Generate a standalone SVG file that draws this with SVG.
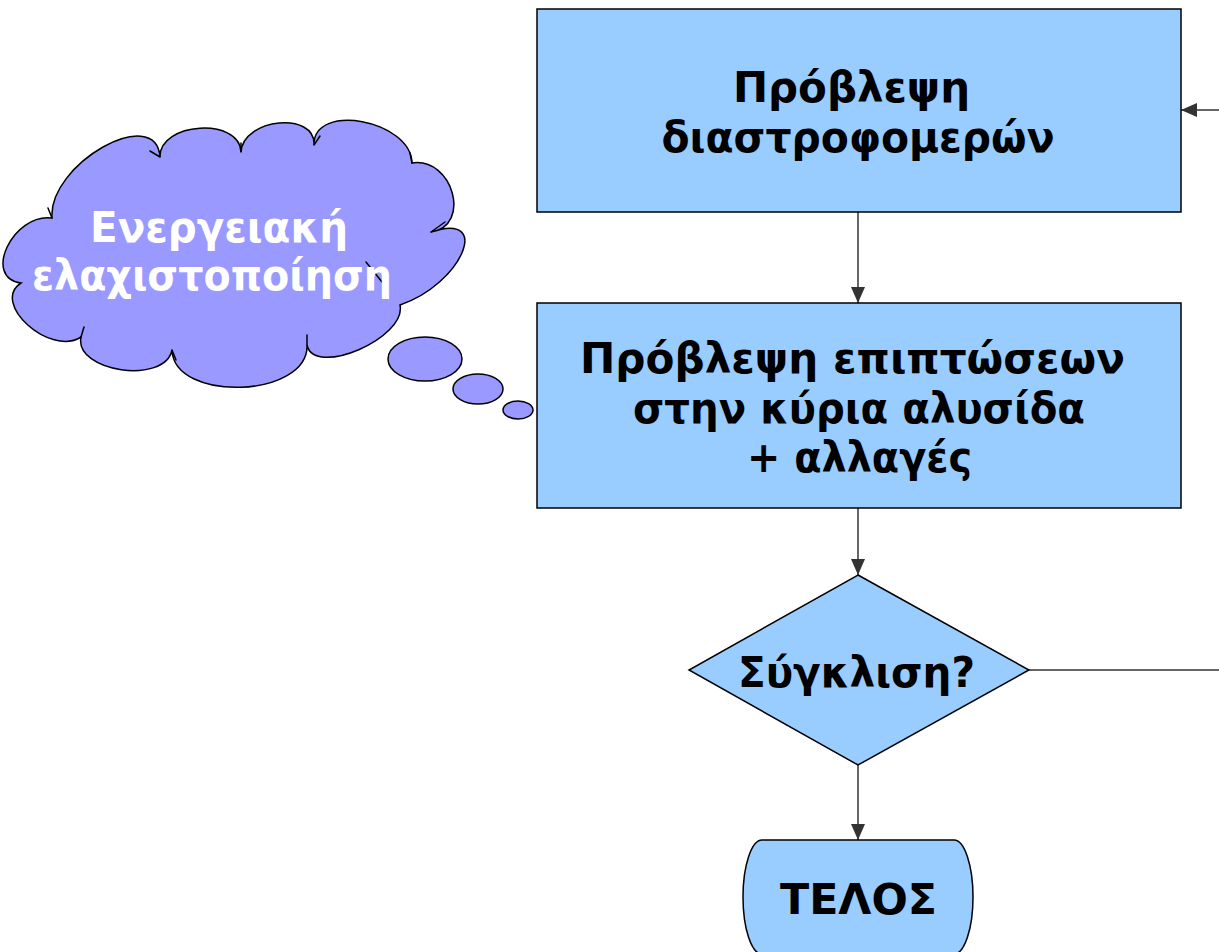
<svg xmlns="http://www.w3.org/2000/svg" width="1219" height="952" viewBox="0 0 1219 952">
<style>
.box{fill:#99ccff;stroke:#000;stroke-width:1.5}
.cloud{fill:#9999ff;stroke:#000;stroke-width:1.5}
.tick{fill:none;stroke:#000;stroke-width:1.5;stroke-linecap:round}
.t{font-family:"DejaVu Sans","Verdana",sans-serif;font-weight:bold;font-size:42px;fill:#000;text-anchor:middle}
.w{fill:#fff}
.c{fill:none;stroke:#333;stroke-width:1.5}
</style>
<defs>
<marker id="ah" markerUnits="userSpaceOnUse" markerWidth="16" markerHeight="14" refX="16" refY="7" orient="auto">
<path d="M0,0 L16,7 L0,14 z" fill="#333"/>
</marker>
</defs>
<rect width="1219" height="952" fill="#fff"/>
<g id="connectors">
<line class="c" x1="858" y1="212" x2="858" y2="303" marker-end="url(#ah)"/>
<line class="c" x1="858" y1="508" x2="858" y2="575" marker-end="url(#ah)"/>
<line class="c" x1="858" y1="765" x2="858" y2="840" marker-end="url(#ah)"/>
<line class="c" x1="1029" y1="670" x2="1219" y2="670"/>
<line class="c" x1="1219" y1="110" x2="1181" y2="110" marker-end="url(#ah)"/>
</g>
<g id="node-prediction-rotamers">
<rect class="box" x="537" y="9" width="644" height="203"/>
<text class="t" x="851.5" y="102" textLength="237" lengthAdjust="spacingAndGlyphs">Πρόβλεψη</text>
<text class="t" x="858" y="152" textLength="393" lengthAdjust="spacingAndGlyphs">διαστροφομερών</text>
</g>
<g id="node-prediction-effects">
<rect class="box" x="537" y="303" width="644" height="205"/>
<text class="t" x="852.5" y="373" textLength="545" lengthAdjust="spacingAndGlyphs">Πρόβλεψη επιπτώσεων</text>
<text class="t" x="859" y="423" textLength="452" lengthAdjust="spacingAndGlyphs">στην κύρια αλυσίδα</text>
<text class="t" x="859.5" y="472" textLength="225" lengthAdjust="spacingAndGlyphs">+ αλλαγές</text>
</g>
<g id="node-convergence">
<polygon class="box" points="858,575 1029,670 858,765 689,670"/>
<text class="t" x="856.5" y="687" textLength="237" lengthAdjust="spacingAndGlyphs">Σύγκλιση?</text>
</g>
<g id="node-end">
<path class="box" d="M762,840 H954 A19,57 0 0 1 954,954 H762 A19,57 0 0 1 762,840 Z"/>
<text class="t" x="858.5" y="914" textLength="157" lengthAdjust="spacingAndGlyphs">ΤΕΛΟΣ</text>
</g>
<g id="node-energy-minimization">
<path class="cloud" d="M52,218 C48,164 156,103 160,157 C159,122 240,117 241,152 C243,118 316,111 314,145 C313,102 411,120 412,163 C453,157 472,226 431,232 C493,211 462,284 400,305 C407,338 314,378 307,345 C309,398 174,403 172,350 C165,385 74,372 81,337 C50,357 -10,303 21,283 C-18,278 13,213 52,218 Z"/>
<path class="tick" d="M48,208 L52,218 M150,151 L160,157 M241,143 L241,152 M320,136 L314,145 M410,153 L412,163 M445,222 L431,232 M366,262 L382,282 M307,335 L307,345 M176,360 L172,350 M84,327 L81,337"/>
<ellipse class="cloud" cx="425" cy="359" rx="37" ry="22"/>
<ellipse class="cloud" cx="478" cy="389" rx="25" ry="15"/>
<ellipse class="cloud" cx="518" cy="410" rx="15" ry="9"/>
<text class="t w" x="219" y="242" textLength="258" lengthAdjust="spacingAndGlyphs">Ενεργειακή</text>
<text class="t w" x="212" y="290" textLength="360" lengthAdjust="spacingAndGlyphs">ελαχιστοποίηση</text>
</g>
</svg>
